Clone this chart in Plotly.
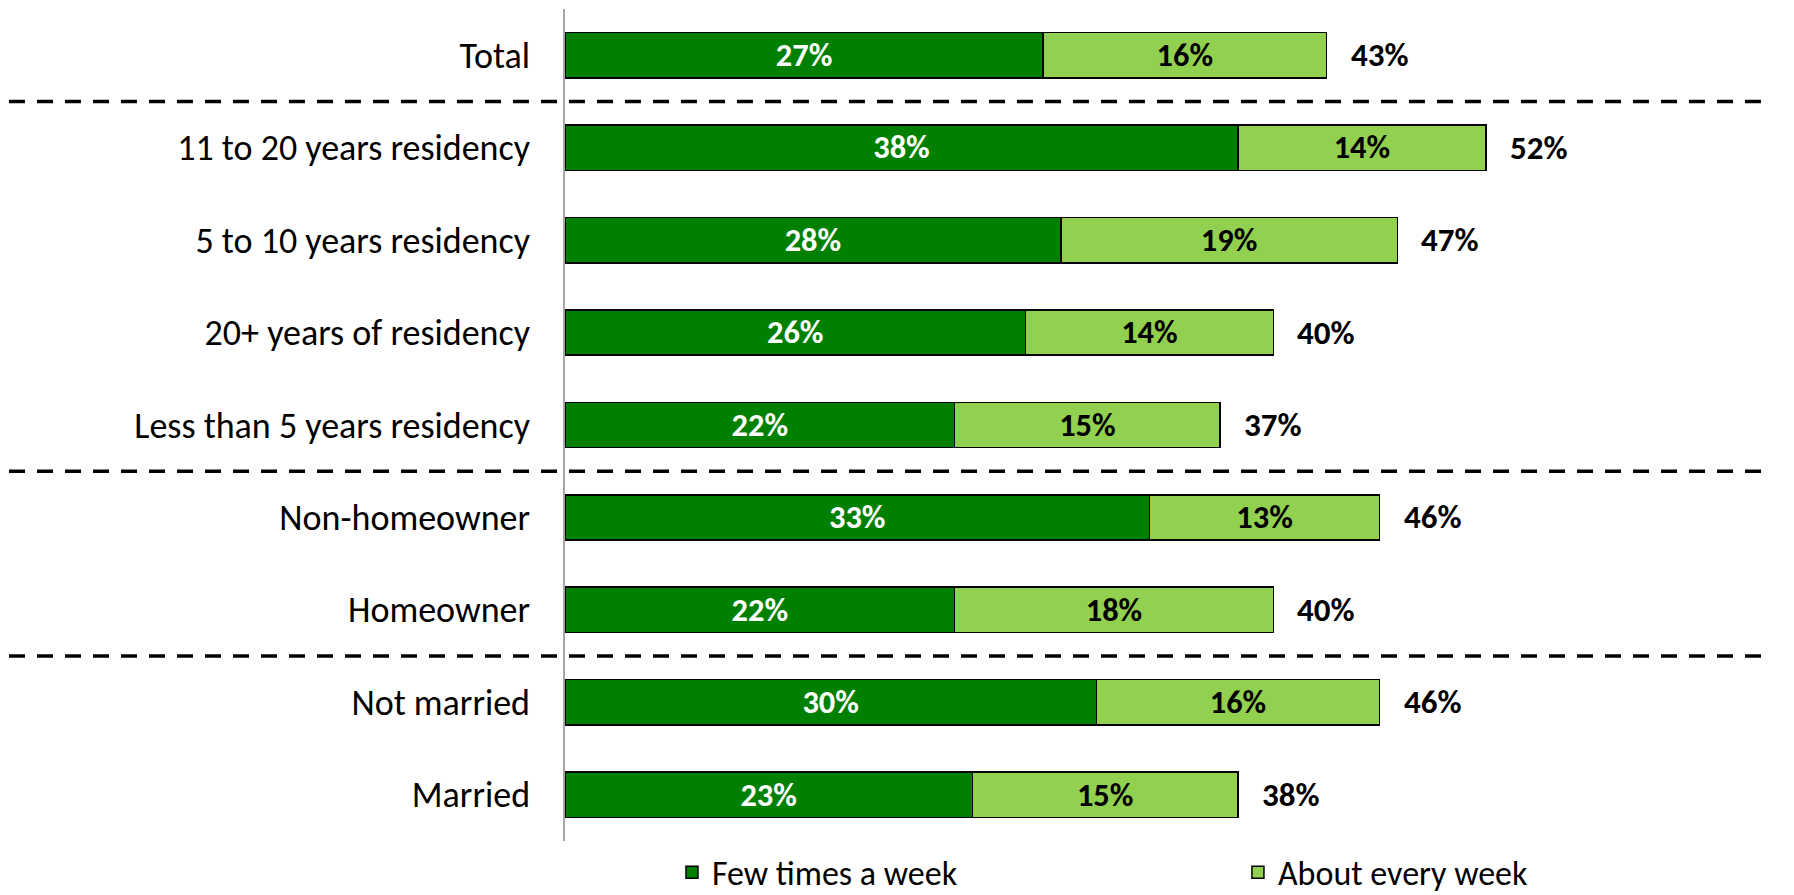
import plotly.graph_objects as go

# data
categories = [
    "Total",
    "11 to 20 years residency",
    "5 to 10 years residency",
    "20+ years of residency",
    "Less than 5 years residency",
    "Non-homeowner",
    "Homeowner",
    "Not married",
    "Married",
]
fewTimes = [27, 38, 28, 26, 22, 33, 22, 30, 23]
everyWeek = [16, 14, 19, 14, 15, 13, 18, 16, 15]
totals = [43, 52, 47, 40, 37, 46, 40, 46, 38]
separators = [0.5, 4.5, 6.5]  # dashed lines between groups

FONT = "Calibri, Carlito, Lato, 'Liberation Sans', sans-serif"
DARK = "#008000"
LIGHT = "#92d050"

fig = go.Figure()
fig.add_trace(go.Bar(
    y=categories, x=fewTimes, orientation="h", name="Few times a week",
    marker=dict(color=DARK, line=dict(color="black", width=1.5)),
    text=[f"<b>{v}%</b>" for v in fewTimes], textposition="inside",
    insidetextanchor="middle", textangle=0,
    textfont=dict(color="white", size=33, family=FONT),
    legend="legend",
))
fig.add_trace(go.Bar(
    y=categories, x=everyWeek, orientation="h", name="About every week",
    marker=dict(color=LIGHT, line=dict(color="black", width=1.5)),
    text=[f"<b>{v}%</b>" for v in everyWeek], textposition="inside",
    insidetextanchor="middle", textangle=0,
    textfont=dict(color="black", size=33, family=FONT),
    legend="legend2",
))

for cat, tot in zip(categories, totals):
    fig.add_annotation(
        x=tot, y=cat, xref="x", yref="y", text=f"<b>{tot}%</b>",
        showarrow=False, xanchor="left", xshift=22,
        font=dict(size=33, color="black", family=FONT),
    )

for sep in separators:
    fig.add_shape(
        type="line", xref="paper", yref="y", x0=-0.461, x1=0.997, y0=sep, y1=sep,
        line=dict(color="black", width=3.5, dash="16px,12px"),
    )

legendStyle = dict(
    orientation="h", yanchor="middle", y=-0.038, xanchor="left",
    font=dict(size=34, family=FONT, color="black"), bgcolor="rgba(0,0,0,0)",
)
# page body has an 8px margin, so the figure is 8px smaller than the window
fig.update_layout(
    width=1786, height=887,
    barmode="stack", bargap=0.51,
    margin=dict(l=557, r=23, t=1, b=54, autoexpand=False),
    plot_bgcolor="white", paper_bgcolor="white",
    font=dict(family=FONT, size=34, color="black"),
    uniformtext=dict(mode=False),
    showlegend=True,
    legend=dict(x=0.0887, **legendStyle),
    legend2=dict(x=0.558, **legendStyle),
)
fig.update_xaxes(range=[0, 68.1], visible=False, showgrid=False, zeroline=False)
fig.update_yaxes(
    autorange="reversed", showgrid=False, showline=True, linecolor="#a6a6a6",
    linewidth=1.5, ticks="", ticklabelstandoff=26,
    tickfont=dict(size=36, family=FONT),
)

fig.write_html("out.html")
